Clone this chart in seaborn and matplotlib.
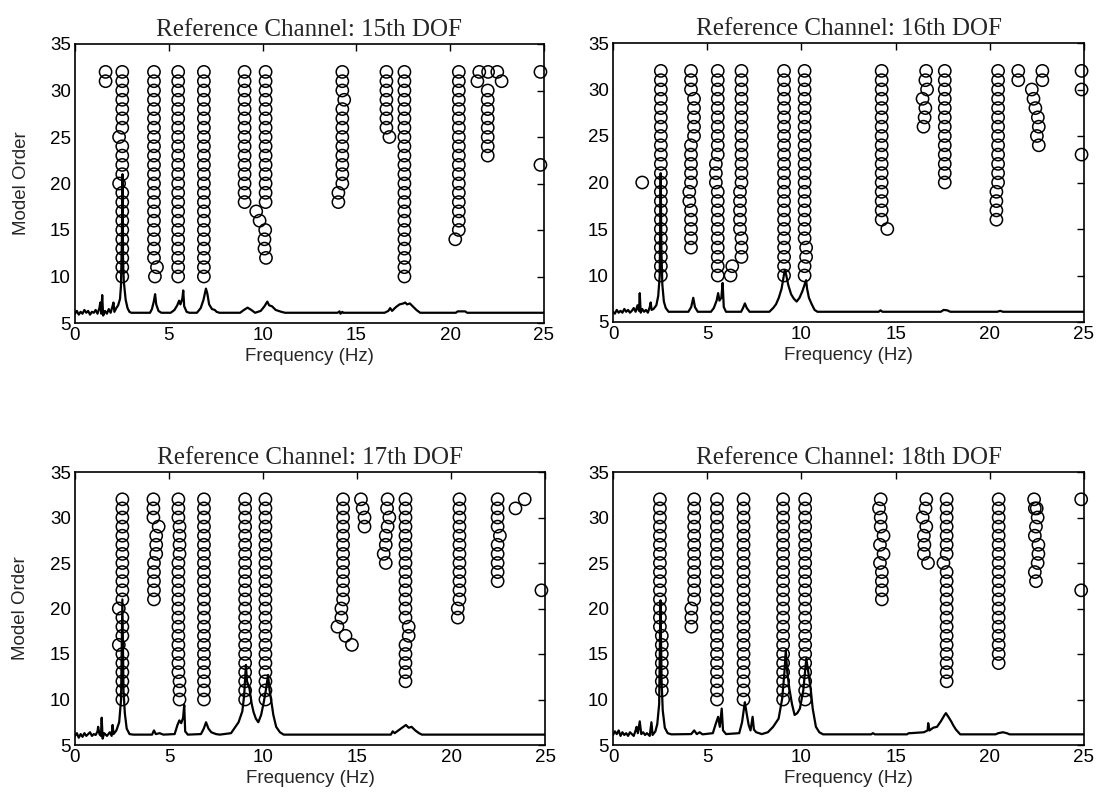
import matplotlib
matplotlib.use("Agg")
import matplotlib.pyplot as plt
import seaborn as sns
import pandas as pd

# ---- stable poles: (frequency in Hz, lowest model order, highest model order) ----
poles_15 = [
    (1.63, 31, 32),
    (2.52, 10, 19), (2.35, 20, 20), (2.52, 21, 24), (2.35, 25, 25), (2.52, 26, 32),
    (4.26, 10, 10), (4.37, 11, 11), (4.21, 12, 32),
    (5.50, 10, 32),
    (6.87, 10, 32),
    (9.04, 18, 32),
    (10.16, 18, 32), (9.66, 17, 17), (9.84, 16, 16), (10.14, 15, 15),
    (10.10, 13, 14), (10.18, 12, 12),
    (14.25, 20, 28), (14.35, 29, 29), (14.25, 30, 32), (14.04, 18, 19),
    (16.60, 26, 32), (16.76, 25, 25),
    (17.56, 10, 32),
    (20.46, 15, 32), (20.27, 14, 14),
    (21.55, 32, 32), (21.45, 31, 31), (22.02, 32, 32), (22.51, 32, 32), (22.74, 31, 31),
    (22.00, 23, 30),
    (24.81, 32, 32), (24.81, 22, 22),
]

poles_16 = [
    (1.55, 20, 20),
    (2.54, 10, 32),
    (4.14, 30, 32), (4.30, 25, 29), (4.14, 20, 24), (4.05, 18, 19), (4.14, 13, 17),
    (5.56, 10, 19), (5.46, 20, 22), (5.56, 23, 32),
    (6.24, 10, 10), (6.33, 11, 11),
    (6.82, 20, 32), (6.74, 15, 19), (6.82, 12, 14),
    (9.08, 10, 32),
    (10.17, 14, 32), (10.25, 12, 13), (10.17, 10, 11),
    (14.26, 16, 32), (14.56, 15, 15),
    (16.62, 32, 32), (16.58, 31, 31), (16.67, 30, 30), (16.43, 29, 29),
    (16.58, 28, 28), (16.54, 27, 27), (16.48, 26, 26),
    (17.61, 20, 32),
    (20.44, 20, 32), (20.35, 16, 19),
    (21.51, 31, 32),
    (22.79, 31, 32),
    (22.23, 30, 30), (22.32, 29, 29), (22.42, 28, 28), (22.55, 27, 27),
    (22.60, 26, 26), (22.50, 25, 25), (22.60, 24, 24),
    (24.87, 32, 32), (24.87, 30, 30), (24.87, 23, 23),
]

poles_17 = [
    (2.52, 10, 15), (2.33, 16, 16), (2.52, 17, 19), (2.33, 20, 20), (2.52, 21, 32),
    (4.17, 30, 32), (4.45, 29, 29), (4.32, 26, 28), (4.20, 21, 25),
    (5.56, 10, 12), (5.50, 13, 25), (5.56, 26, 29), (5.50, 30, 32),
    (6.86, 10, 32),
    (9.05, 10, 32),
    (10.13, 10, 32),
    (14.26, 21, 32), (14.17, 19, 20), (13.96, 18, 18), (14.39, 17, 17), (14.73, 16, 16),
    (15.21, 32, 32), (15.30, 31, 31), (15.40, 29, 30),
    (16.63, 32, 32), (16.60, 31, 31), (16.72, 30, 30), (16.63, 29, 29),
    (16.53, 27, 28), (16.42, 26, 26), (16.53, 25, 25),
    (17.58, 19, 32), (17.75, 17, 18), (17.58, 12, 16),
    (20.45, 21, 32), (20.36, 19, 20),
    (22.48, 29, 32), (22.60, 28, 28), (22.48, 23, 27),
    (23.43, 31, 31), (23.92, 32, 32),
    (24.81, 22, 22),
]

poles_18 = [
    (2.49, 18, 32), (2.59, 11, 17),
    (4.31, 21, 32), (4.16, 18, 20),
    (5.52, 10, 32),
    (6.93, 10, 32),
    (9.03, 10, 32),
    (10.20, 10, 32),
    (14.21, 32, 32), (14.12, 31, 31), (14.21, 29, 30), (14.36, 28, 28),
    (14.17, 27, 27), (14.36, 26, 26), (14.17, 25, 25), (14.27, 21, 24),
    (16.63, 32, 32), (16.59, 31, 31), (16.44, 30, 30), (16.63, 29, 29),
    (16.50, 28, 28), (16.53, 27, 27), (16.50, 26, 26), (16.72, 25, 25),
    (17.71, 26, 32), (17.54, 25, 25), (17.71, 12, 24),
    (20.47, 14, 32),
    (22.35, 32, 32), (22.39, 31, 31), (22.49, 31, 31), (22.54, 30, 30),
    (22.45, 29, 29), (22.39, 28, 28), (22.58, 26, 27), (22.54, 25, 25),
    (22.39, 24, 24), (22.45, 23, 23),
    (24.85, 32, 32), (24.85, 22, 22),
]

# ---- scaled spectrum overlaid on each diagram ----
spec15_f = [0.0, 0.1, 0.2, 0.3, 0.4, 0.5, 0.6, 0.7, 0.8, 0.9, 1.0, 1.1, 1.2, 1.3, 1.35,
            1.4, 1.45, 1.5, 1.6, 1.7, 1.8, 1.9, 2.0, 2.05, 2.1, 2.2, 2.3, 2.4, 2.45, 2.5,
            2.53, 2.56, 2.6, 2.7, 2.8, 2.9, 3.0, 4.0, 4.1, 4.2, 4.27, 4.33, 4.45, 4.6,
            5.1, 5.3, 5.45, 5.55, 5.62, 5.72, 5.77, 5.82, 5.95, 6.1, 6.5, 6.7, 6.85, 6.98,
            7.05, 7.15, 7.3, 7.45, 7.55, 7.7, 8.8, 9.0, 9.2, 9.4, 9.6, 9.9, 10.1, 10.25,
            10.35, 10.5, 10.7, 11.0, 11.2, 14.0, 14.1, 14.15, 14.25, 14.3, 16.5, 16.7,
            16.8, 16.9, 17.1, 17.3, 17.5, 17.6, 17.7, 17.85, 18.0, 18.2, 18.4, 20.3, 20.4,
            20.8, 20.9, 25.0]
spec15_v = [6.0, 6.3, 5.9, 6.2, 6.0, 6.4, 6.1, 6.3, 5.9, 6.2, 6.1, 6.4, 6.0, 6.6, 7.2,
            6.0, 8.0, 5.8, 6.3, 6.0, 6.5, 6.1, 6.8, 7.2, 6.2, 6.6, 6.9, 7.6, 9.0, 14.0,
            21.0, 12.0, 9.5, 7.5, 6.6, 6.2, 6.1, 6.1, 6.5, 7.3, 8.1, 7.0, 6.3, 6.1,
            6.1, 6.4, 6.9, 7.4, 7.0, 7.6, 8.5, 6.8, 6.2, 6.1, 6.1, 6.6, 7.5, 8.7,
            8.2, 7.0, 6.5, 6.4, 6.2, 6.1, 6.1, 6.4, 6.65, 6.4, 6.1, 6.3, 6.8, 7.3,
            6.9, 6.8, 6.4, 6.2, 6.1, 6.1, 6.25, 6.0, 6.2, 6.1, 6.1, 6.3,
            6.6, 6.3, 6.7, 7.0, 7.1, 7.2, 7.0, 7.1, 6.8, 6.4, 6.1, 6.1, 6.25,
            6.25, 6.1, 6.1]

spec16_f = [0.0, 0.1, 0.2, 0.3, 0.4, 0.5, 0.6, 0.7, 0.8, 0.9, 1.0, 1.1, 1.2, 1.3, 1.38,
            1.42, 1.47, 1.55, 1.65, 1.75, 1.85, 1.95, 2.0, 2.05, 2.15, 2.3, 2.4, 2.48,
            2.53, 2.57, 2.62, 2.7, 2.8, 2.95, 4.0, 4.15, 4.26, 4.35, 4.5, 5.2, 5.35, 5.5,
            5.58, 5.65, 5.75, 5.82, 5.88, 6.0, 6.8, 6.9, 7.0, 7.1, 7.25, 8.3, 8.5, 8.65,
            8.8, 8.95, 9.05, 9.12, 9.2, 9.3, 9.45, 9.6, 9.75, 9.9, 10.05, 10.15, 10.25,
            10.3, 10.4, 10.55, 10.7, 10.85, 14.1, 14.2, 14.3, 17.4, 17.55, 17.75, 17.9,
            20.4, 20.55, 20.7, 25.0]
spec16_v = [6.1, 5.9, 6.3, 6.0, 6.2, 6.0, 6.4, 6.1, 6.3, 6.0, 6.2, 6.5, 6.1, 6.8, 6.2,
            8.1, 6.0, 6.4, 6.1, 6.3, 6.0, 6.6, 7.1, 6.3, 6.4, 6.8, 7.8, 10.0,
            21.0, 12.5, 9.0, 7.2, 6.5, 6.1, 6.1, 6.6, 7.6, 6.6, 6.1, 6.1, 6.5, 7.3,
            8.1, 7.3, 7.6, 9.2, 6.6, 6.1, 6.1, 6.5, 7.0, 6.5, 6.1, 6.1, 6.5, 6.9,
            7.6, 8.6, 9.8, 10.6, 10.0, 9.0, 8.0, 7.5, 7.2, 7.6, 8.3, 8.9, 9.5,
            8.6, 7.6, 6.9, 6.3, 6.1, 6.1, 6.25, 6.1, 6.1, 6.3, 6.25, 6.1,
            6.1, 6.2, 6.1, 6.1]

spec17_f = [0.0, 0.1, 0.2, 0.3, 0.4, 0.5, 0.6, 0.7, 0.8, 0.9, 1.0, 1.1, 1.2, 1.23, 1.3,
            1.38, 1.42, 1.47, 1.55, 1.7, 1.85, 1.95, 2.0, 2.05, 2.2, 2.35, 2.45, 2.52,
            2.58, 2.65, 2.75, 2.9, 3.1, 4.1, 4.2, 4.3, 4.5, 4.7, 5.3, 5.45, 5.55, 5.65,
            5.75, 5.81, 5.86, 6.0, 6.7, 6.85, 6.97, 7.1, 7.25, 7.5, 7.7, 8.3, 8.5, 8.7,
            8.9, 9.0, 9.09, 9.15, 9.28, 9.4, 9.5, 9.62, 9.75, 9.9, 10.04, 10.15, 10.27,
            10.35, 10.45, 10.55, 10.7, 10.9, 11.1, 16.8, 16.9, 17.0, 17.2, 17.4, 17.6,
            17.75, 17.9, 18.1, 18.3, 18.45, 25.0]
spec17_v = [6.0, 6.3, 5.8, 6.2, 5.9, 6.3, 6.0, 6.2, 6.4, 6.0, 6.2, 6.1, 6.5, 7.0, 6.2,
            6.0, 8.0, 5.7, 6.3, 6.0, 6.4, 6.0, 7.2, 6.2, 6.6, 7.5, 10.0, 21.0,
            11.0, 8.5, 6.8, 6.2, 6.14, 6.14, 6.6, 6.2, 6.3, 6.14, 6.2, 7.2, 7.7, 7.4,
            8.0, 9.4, 6.5, 6.14, 6.2, 6.8, 7.5, 6.8, 6.4, 6.2, 6.14, 6.3, 6.9, 7.5,
            8.7, 10.5, 13.8, 12.0, 11.2, 9.5, 8.6, 7.9, 7.5, 8.3, 9.7, 11.0, 12.7,
            11.0, 9.7, 8.3, 7.0, 6.4, 6.14, 6.14, 6.5, 6.3, 6.6, 6.9, 7.2,
            6.9, 7.0, 6.6, 6.3, 6.14, 6.14]

spec18_f = [0.0, 0.1, 0.2, 0.3, 0.4, 0.5, 0.6, 0.7, 0.8, 0.9, 1.0, 1.1, 1.2, 1.25, 1.32,
            1.42, 1.5, 1.6, 1.7, 1.8, 1.95, 2.04, 2.1, 2.25, 2.35, 2.45, 2.52, 2.58,
            2.64, 2.75, 2.9, 3.1, 4.15, 4.31, 4.45, 4.6, 4.75, 5.3, 5.45, 5.58, 5.67,
            5.77, 5.84, 6.0, 6.7, 6.85, 6.95, 7.0, 7.1, 7.2, 7.3, 7.41, 7.48, 7.6, 7.9,
            8.22, 8.5, 8.79, 8.98, 9.1, 9.17, 9.25, 9.36, 9.5, 9.64, 9.78, 9.92, 10.1,
            10.26, 10.38, 10.49, 10.6, 10.77, 10.95, 11.15, 13.7, 13.8, 13.9, 15.6, 15.7,
            15.8, 16.5, 16.7, 16.73, 16.8, 17.0, 17.2, 17.4, 17.6, 17.67, 17.8, 17.95,
            18.05, 18.2, 18.43, 20.3, 20.45, 20.7, 20.9, 21.05, 25.0]
spec18_v = [6.1, 6.5, 6.2, 6.6, 6.0, 6.4, 6.1, 6.3, 6.0, 6.4, 6.2, 6.0, 6.6, 7.0, 6.3,
            7.6, 6.2, 6.4, 6.1, 6.3, 6.0, 7.5, 6.1, 6.5, 7.3, 9.5, 20.9, 12.0,
            8.8, 6.9, 6.3, 6.17, 6.2, 6.6, 6.2, 6.4, 6.17, 6.3, 7.3, 8.1, 7.0,
            9.0, 6.6, 6.2, 6.3, 7.5, 9.0, 9.7, 8.4, 7.2, 6.6, 8.1, 6.7, 6.4, 6.2,
            6.4, 7.0, 7.9, 10.1, 13.0, 15.4, 13.0, 11.2, 9.5, 8.3, 8.5, 9.0, 11.0,
            14.5, 12.8, 11.2, 9.0, 7.0, 6.4, 6.17, 6.17, 6.3, 6.17, 6.17, 6.3,
            6.3, 6.4, 6.6, 7.4, 6.6, 6.9, 7.0, 7.6, 8.3, 8.5, 8.1, 7.6,
            7.2, 6.7, 6.17, 6.17, 6.3, 6.4, 6.3, 6.17, 6.17]

titles = ["Reference Channel: 15th DOF", "Reference Channel: 16th DOF",
          "Reference Channel: 17th DOF", "Reference Channel: 18th DOF"]
freq_ticks = [0, 5, 10, 15, 20, 25]
order_ticks = [5, 10, 15, 20, 25, 30, 35]

sns.set_theme(style="white")
plt.rcParams["font.family"] = ["Liberation Sans", "DejaVu Sans"]
plt.rcParams["xtick.direction"] = "in"
plt.rcParams["ytick.direction"] = "in"

W, H = 1113, 797
fig = plt.figure(figsize=(W / 100, H / 100), dpi=100)

# axes boxes in pixels: left, top, right, bottom
boxes = [(75, 44, 544, 323), (613, 43, 1084, 322),
         (75, 472, 545, 745), (613, 472, 1084, 745)]

panels = [
    (poles_15, spec15_f, spec15_v),
    (poles_16, spec16_f, spec16_v),
    (poles_17, spec17_f, spec17_v),
    (poles_18, spec18_f, spec18_v),
]

for i, ((poles, sf, sv), (l, t, r, b)) in enumerate(zip(panels, boxes)):
    ax = fig.add_axes([l / W, 1 - b / H, (r - l) / W, (b - t) / H])

    rows = [(f, o) for f, lo, hi in poles for o in range(lo, hi + 1)]
    pts = pd.DataFrame(rows, columns=["freq", "order"])
    sns.scatterplot(data=pts, x="freq", y="order", ax=ax, marker="o", s=78,
                    facecolor="none", edgecolor="black", linewidth=1.1,
                    clip_on=False, zorder=3, legend=False)

    spec = pd.DataFrame({"freq": sf, "amp": sv})
    sns.lineplot(data=spec, x="freq", y="amp", ax=ax, color="black",
                 linewidth=1.6, estimator=None, sort=False, zorder=4)

    ax.set_xlim(0, 25)
    ax.set_ylim(5, 35)
    ax.set_xticks(freq_ticks)
    ax.set_yticks(order_ticks)
    ax.tick_params(axis="both", which="both", direction="in", length=5, width=1,
                   top=True, right=True, labelsize=13.5, pad=3, colors="black")
    for sp in ax.spines.values():
        sp.set_color("black")
        sp.set_linewidth(1.2)

    ax.set_xlabel("Frequency (Hz)", fontsize=13.5, labelpad=3)
    if i % 2 == 0:
        ax.set_ylabel("Model Order", fontsize=13.5)
        ax.yaxis.set_label_coords(-0.097, 0.5)
    else:
        ax.set_ylabel("")
    ax.set_title(titles[i], fontsize=18, family=["Liberation Serif", "DejaVu Serif"],
                 pad=6)

fig.savefig("out.png", dpi=100)
